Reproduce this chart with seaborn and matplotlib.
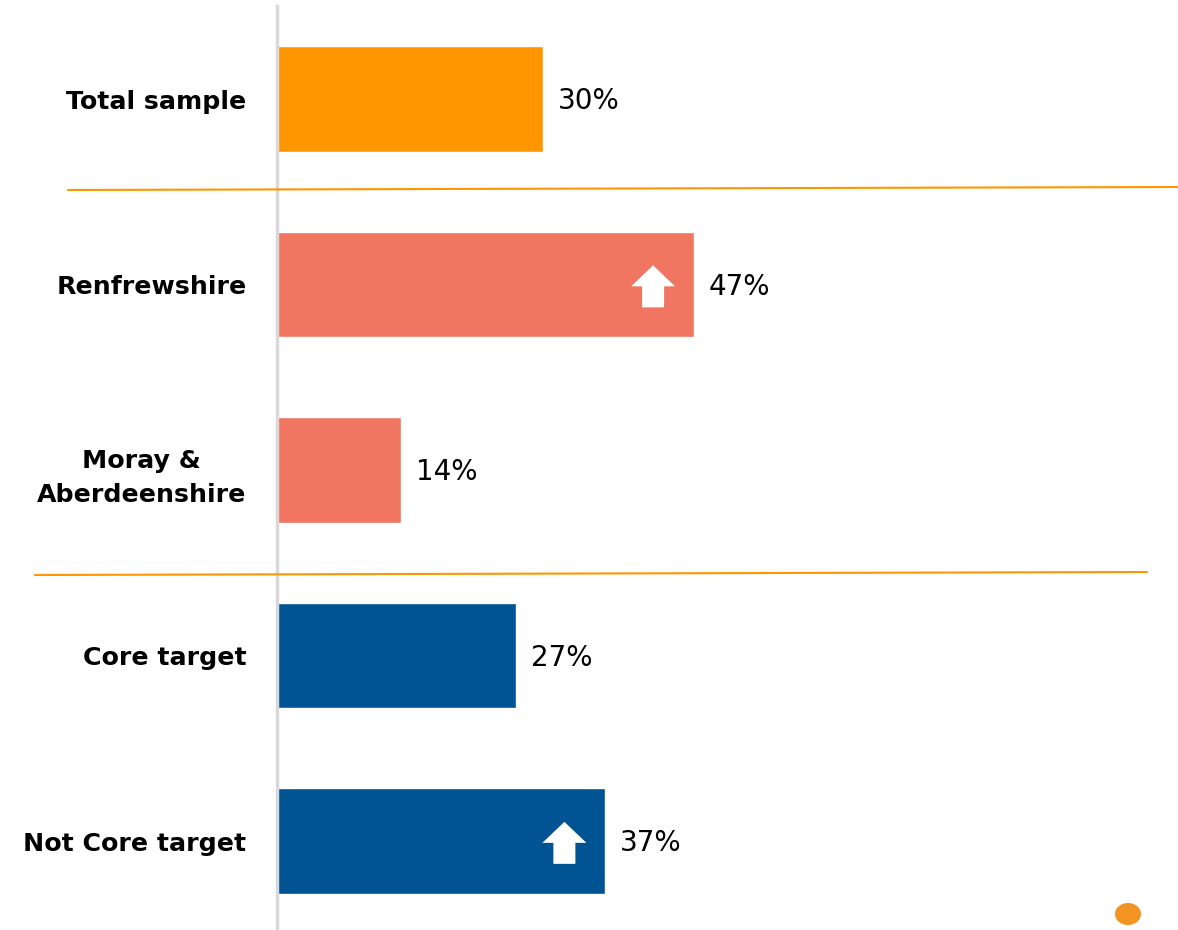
import matplotlib
matplotlib.use("Agg")
import matplotlib.pyplot as plt
import matplotlib.transforms as mtransforms
from matplotlib.patches import Polygon, Ellipse
from matplotlib.lines import Line2D
import seaborn as sns
import pandas as pd

# Share of respondents by group
categories = ["Total sample", "Renfrewshire", "Moray &\nAberdeenshire",
              "Core target", "Not Core target"]
values = [30, 47, 14, 27, 37]
value_labels = ["30%", "47%", "14%", "27%", "37%"]
# Groups flagged as significantly higher than the total
significant_up = [False, True, False, False, True]

colors = ["#FF9600", "#F07662", "#F07662", "#005494", "#005494"]

sns.set_theme(style="white")
plt.rcParams["font.family"] = ["DejaVu Sans"]

W, H, DPI = 1178, 930, 100
fig = plt.figure(figsize=(W / DPI, H / DPI), dpi=DPI)
fig.patch.set_facecolor("white")

# axes: left edge at the vertical rule, spanning nearly full height
ax_left, ax_right = 277, 1178
ax_top, ax_bottom = 6.25, 933.75
ax = fig.add_axes([ax_left / W, 1 - ax_bottom / H,
                   (ax_right - ax_left) / W, (ax_bottom - ax_top) / H])

df = pd.DataFrame({"group": categories, "value": values})
sns.barplot(data=df, y="group", x="value", hue="group", palette=colors,
            legend=False, width=0.571, saturation=1, ax=ax, orient="h")

px_per_pct = 8.87
ax.set_xlim(0, (ax_right - ax_left) / px_per_pct)
ax.set_ylim(len(categories) - 0.5, -0.5)

for s in ["top", "right", "bottom"]:
    ax.spines[s].set_visible(False)
ax.spines["left"].set_color("#D9D9D9")
ax.spines["left"].set_linewidth(2.5)
ax.set_xticks([])
ax.set_xlabel("")
ax.set_ylabel("")
ax.tick_params(axis="y", length=0, pad=22)
for lab in ax.get_yticklabels():
    lab.set_fontsize(18.2)
    lab.set_fontweight("bold")
    lab.set_color("black")
    lab.set_multialignment("center")
    lab.set_linespacing(1.55)

# value labels
for i, (v, t) in enumerate(zip(values, value_labels)):
    ax.annotate(t, xy=(v, i), xytext=(15, -2), textcoords="offset pixels",
                ha="left", va="center", fontsize=20, color="black")

# white up-arrows inside flagged bars (shape in pixels)
arrow_px = [(-22, 0), (0, 21), (22, 0), (11, 0), (11, -21), (-11, -21), (-11, 0)]
for i, (v, up) in enumerate(zip(values, significant_up)):
    if not up:
        continue
    trans = mtransforms.Affine2D() + mtransforms.ScaledTranslation(v - 4.6, i + 0.01, ax.transData)
    ax.add_patch(Polygon(arrow_px, closed=True, facecolor="white",
                         edgecolor="none", transform=trans, zorder=5))

# orange separators between group blocks (figure pixel coords)
def fig_line(x0, y0, x1, y1):
    fig.add_artist(Line2D([x0 / W, x1 / W], [1 - y0 / H, 1 - y1 / H],
                          color="#FF9600", linewidth=1.5,
                          transform=fig.transFigure))

fig_line(68, 190, 1178, 187)
fig_line(35, 575, 1147, 572)

# decorative dot
fig.add_artist(Ellipse((1128 / W, 1 - 914 / H), 26 / W, 22 / H,
                       facecolor="#F39322", edgecolor="none",
                       transform=fig.transFigure))

fig.savefig("out.png", dpi=DPI, facecolor="white")
